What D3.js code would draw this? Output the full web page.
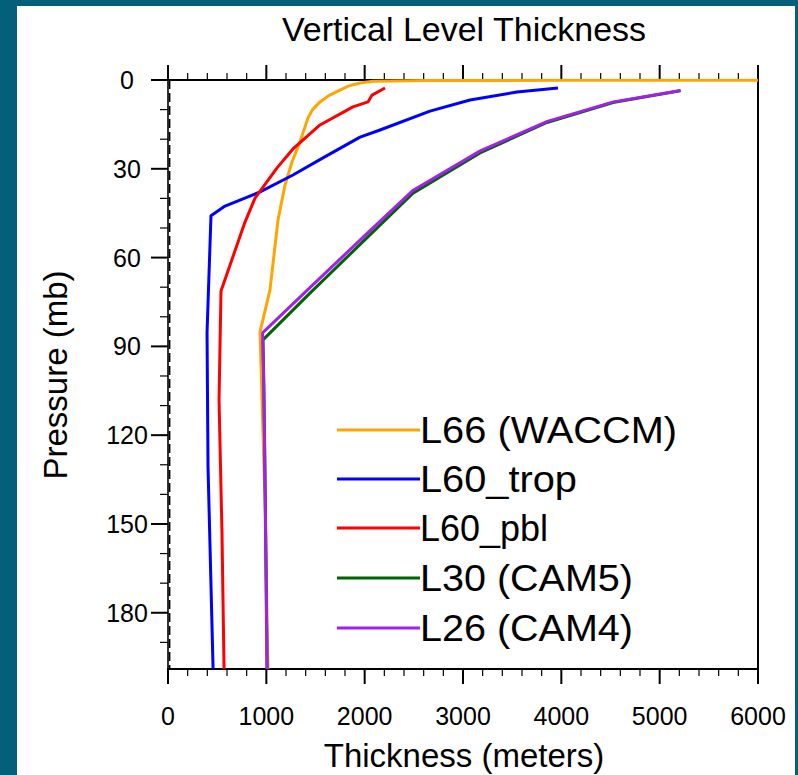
<!DOCTYPE html>
<html>
<head>
<meta charset="utf-8">
<script src="https://cdn.jsdelivr.net/npm/d3@7"></script>
<style>
  body { margin: 0; background: #04607a; }
  svg { display: block; }
  text { font-family: "Liberation Sans", Arial, Helvetica, sans-serif; fill: #000; }
</style>
</head>
<body>
<div id="graphContainer"></div>
<script>
// thickness (m) vs pressure (mb)
const waccmThick = [9000, 4000, 2640, 2085, 1953, 1840, 1749, 1640, 1546, 1470, 1424, 1342, 1261, 1190, 1119, 1037, 936, 986, 1017, 1022];
const waccmPres = [0.05, 0.1, 0.2, 0.4, 1.0, 2.0, 3.4, 5.2, 7.4, 10.0, 12.8, 20.9, 27.7, 35.5, 47.3, 70.9, 85.1, 141.8, 199, 205];

const tropThick = [3966, 3549, 3071, 2664, 2156, 1953, 1576, 1271, 936, 580, 437, 397, 407, 458, 470];
const tropPres = [2.7, 4.05, 6.75, 10.5, 16.9, 19.3, 26.3, 32.1, 37.8, 42.6, 45.9, 85.4, 130.7, 198.2, 205];

const pblThick = [2207, 2075, 2034, 1881, 1546, 1271, 1109, 885, 783, 539, 519, 549, 570, 575];
const pblPres = [2.7, 5.1, 7.4, 9.1, 15.2, 23.3, 29.7, 39.9, 48, 71.3, 108, 153, 199, 205];

const cam5Thick = [5207, 4526, 3854, 3173, 2492, 1983, 1444, 966, 975, 982, 990, 998, 1007, 1012];
const cam5Pres = [3.64, 7.59, 14.36, 24.61, 38.27, 54.6, 72.01, 87.82, 103.3, 121.5, 143.0, 168.2, 197.9, 232.8];

const cam4Thick = [5215, 4530, 3858, 3176, 2494, 1985, 1446, 962, 972, 980, 988, 996, 1005, 1012];
const cam4Pres = [3.54, 7.39, 13.97, 23.94, 37.23, 53.11, 70.06, 85.44, 100.51, 118.25, 139.11, 163.66, 192.54, 226.5];

const seriesNames = ["L66 (WACCM)", "L60_trop", "L60_pbl", "L30 (CAM5)", "L26 (CAM4)"];
const seriesColors = ["#ffa500", "#0000ff", "#ff0000", "#006400", "#a020f0"];
const legendWidths = [257, 157, 128, 213, 213];

const xTicks = [0, 1000, 2000, 3000, 4000, 5000, 6000];
const yTicks = [0, 30, 60, 90, 120, 150, 180];

const series = [
  d3.zip(waccmThick, waccmPres),
  d3.zip(tropThick, tropPres),
  d3.zip(pblThick, pblPres),
  d3.zip(cam5Thick, cam5Pres),
  d3.zip(cam4Thick, cam4Pres)
];

const pLeft = 168, pRight = 758, pTop = 80, pBottom = 669;

const xScale = d3.scaleLinear().domain([0, 6000]).range([pLeft, pRight]);
const yScale = d3.scaleLinear().domain([0, 199]).range([pTop, pBottom]);

const svg = d3
  .select("#graphContainer")
  .append("svg")
  .attr("width", 798)
  .attr("height", 775);

// teal frame + white panel
svg.append("rect").attr("width", 798).attr("height", 775).attr("fill", "#04607a");
svg.append("rect").attr("x", 17).attr("y", 6).attr("width", 778).attr("height", 769).attr("fill", "#fff");

svg.append("defs").append("clipPath").attr("id", "plotClip")
  .append("rect")
  .attr("x", pLeft).attr("y", pTop - 1.5)
  .attr("width", pRight - pLeft).attr("height", pBottom - pTop + 1.5);

// minor + major ticks
const xMinor = d3.range(0, 6001, 200);
const yMinor = d3.range(0, 191, 10);

const ticks = svg.append("g").attr("stroke", "#000");
ticks.selectAll(".xt").data(xMinor).enter().append("line")
  .attr("x1", (d) => xScale(d)).attr("x2", (d) => xScale(d))
  .attr("y1", pTop).attr("y2", (d) => (d % 1000 === 0 ? pTop - 15 : pTop - 7))
  .attr("stroke-width", (d) => (d % 1000 === 0 ? 2 : 1.2));
ticks.selectAll(".xb").data(xMinor).enter().append("line")
  .attr("x1", (d) => xScale(d)).attr("x2", (d) => xScale(d))
  .attr("y1", pBottom).attr("y2", (d) => (d % 1000 === 0 ? pBottom + 15 : pBottom + 7))
  .attr("stroke-width", (d) => (d % 1000 === 0 ? 2 : 1.2));
ticks.selectAll(".yl").data(yMinor).enter().append("line")
  .attr("y1", (d) => yScale(d)).attr("y2", (d) => yScale(d))
  .attr("x1", pLeft).attr("x2", (d) => (d % 30 === 0 ? pLeft - 17 : pLeft - 8))
  .attr("stroke-width", (d) => (d % 30 === 0 ? 2 : 1.2));

// frame
svg.append("line").attr("x1", pLeft - 1).attr("x2", pRight + 1).attr("y1", pTop).attr("y2", pTop)
  .attr("stroke", "#000").attr("stroke-width", 2);
svg.append("line").attr("x1", pLeft - 1).attr("x2", pRight + 1).attr("y1", pBottom).attr("y2", pBottom)
  .attr("stroke", "#000").attr("stroke-width", 2);
svg.append("line").attr("x1", pRight).attr("x2", pRight).attr("y1", pTop).attr("y2", pBottom)
  .attr("stroke", "#000").attr("stroke-width", 2);
svg.append("line").attr("x1", pLeft).attr("x2", pLeft).attr("y1", pTop).attr("y2", pBottom)
  .attr("stroke", "#000").attr("stroke-width", 1.6);
svg.append("line").attr("x1", pLeft + 1.6).attr("x2", pLeft + 1.6).attr("y1", pTop).attr("y2", pBottom)
  .attr("stroke", "#000").attr("stroke-width", 1.6).attr("stroke-dasharray", "9,4");

// data lines
const line = d3.line().x((d) => xScale(d[0])).y((d) => yScale(d[1]));

svg.append("g").attr("clip-path", "url(#plotClip)")
  .selectAll("path")
  .data(series)
  .enter()
  .append("path")
  .attr("d", line)
  .attr("fill", "none")
  .attr("stroke", (d, i) => seriesColors[i])
  .attr("stroke-width", 3)
  .attr("stroke-linejoin", "round");

// tick labels
svg.selectAll(".xlab").data(xTicks).enter().append("text")
  .attr("x", (d) => xScale(d)).attr("y", 725)
  .attr("text-anchor", "middle").attr("font-size", 25)
  .text((d) => d);
svg.selectAll(".ylab").data(yTicks).enter().append("text")
  .attr("x", 127).attr("y", (d) => yScale(d) + 9)
  .attr("text-anchor", "middle").attr("font-size", 25)
  .text((d) => d);

// titles
svg.append("text").attr("x", 464).attr("y", 41).attr("text-anchor", "middle")
  .attr("font-size", 34).text("Vertical Level Thickness");
svg.append("text").attr("x", 464).attr("y", 767).attr("text-anchor", "middle")
  .attr("font-size", 33).text("Thickness (meters)");
svg.append("text").attr("transform", "translate(67,375) rotate(-90)").attr("text-anchor", "middle")
  .attr("font-size", 33).text("Pressure (mb)");

// legend
const legendY = [430, 479, 528, 578, 628];
const legend = svg.selectAll(".leg").data(seriesNames).enter().append("g");
legend.append("line")
  .attr("x1", 337).attr("x2", 420)
  .attr("y1", (d, i) => legendY[i]).attr("y2", (d, i) => legendY[i])
  .attr("stroke", (d, i) => seriesColors[i]).attr("stroke-width", 3);
legend.append("text")
  .attr("x", 420).attr("y", (d, i) => legendY[i] + 13)
  .attr("font-size", 37)
  .attr("textLength", (d, i) => legendWidths[i])
  .attr("lengthAdjust", "spacingAndGlyphs")
  .text((d) => d);
</script>
</body>
</html>
